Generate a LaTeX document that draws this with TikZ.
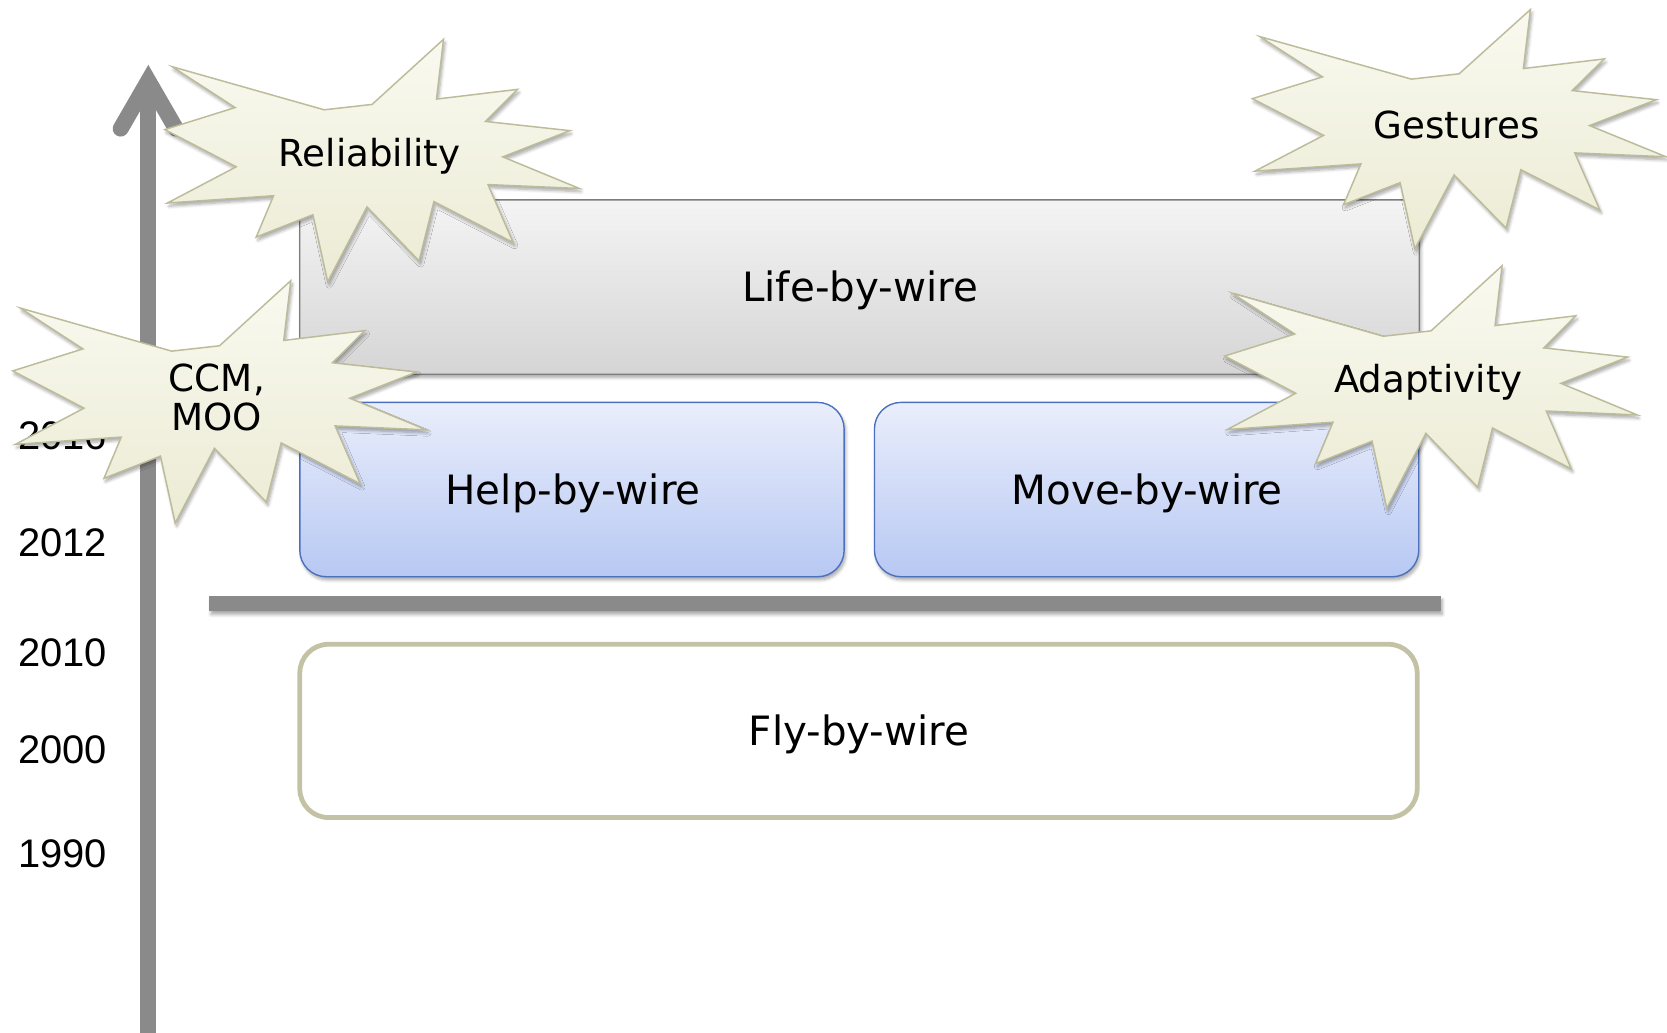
\documentclass[tikz,border=0pt]{standalone}
\usepackage{fontspec}
\setmainfont{DejaVu Sans}
\newfontfamily\yearfont{Liberation Sans}
\usetikzlibrary{shadows.blur}

\definecolor{axisgray}{HTML}{8A8A8A}
\definecolor{lifetop}{HTML}{F4F4F4}
\definecolor{lifebot}{HTML}{D5D5D5}
\definecolor{lifeedge}{HTML}{7C7C7C}
\definecolor{bluetop}{HTML}{EAEEFB}
\definecolor{bluebot}{HTML}{B7C8F3}
\definecolor{blueedge}{HTML}{4C70BE}
\definecolor{flyedge}{HTML}{C3C2A4}
\definecolor{bursttop}{HTML}{F9F9F0}
\definecolor{burstbot}{HTML}{ECEBD4}
\definecolor{burstedge}{HTML}{BDBC9A}

\tikzset{
  softshadow/.style={blur shadow={shadow xshift=1.5pt, shadow yshift=-3pt,
      shadow blur steps=6, shadow blur radius=3pt, shadow opacity=35}},
  boxtext/.style={font=\fontsize{38}{40}\selectfont, text=black},
  lifebox/.style={rectangle, rounded corners=14pt, draw=lifeedge, line width=1.2pt,
      top color=lifetop, bottom color=lifebot, softshadow, boxtext},
  bluebox/.style={rectangle, rounded corners=25pt, draw=blueedge, line width=1.3pt,
      top color=bluetop, bottom color=bluebot, softshadow, boxtext,
      minimum width=512pt, minimum height=164pt},
  flybox/.style={rectangle, rounded corners=27pt, draw=flyedge, line width=4.5pt,
      fill=white, boxtext},
  divider/.style={rectangle, fill=axisgray, inner sep=0pt, softshadow},
  axisline/.style={draw=axisgray, line width=15pt},
  yearlabel/.style={anchor=east, inner sep=0pt, font=\yearfont\fontsize{37.5}{40}\selectfont},
  burst/.style={draw=burstedge, line width=1.4pt, top color=bursttop,
      bottom color=burstbot, line join=miter, softshadow},
  bursttext/.style={font=\fontsize{35}{37}\selectfont, align=center, inner sep=0pt},
}

% Twelve-point explosion: #1 name, #2 left, #3 top, #4 width, #5 height, #6 label
\newcommand\explosion[6]{%
  \shade[burst] ({#2+0.5*#4},{#3+0.2685*#5})
    \foreach \u/\v in {0.6723/0, 0.6553/0.2465, 0.8509/0.2063, 0.7732/0.3387,
        0.9767/0.3767, 0.8151/0.4850, 1/0.6153, 0.7795/0.5992, 0.8400/0.8377,
        0.6491/0.6693, 0.6133/0.9137, 0.4876/0.6914, 0.3928/1, 0.3572/0.7235,
        0.2205/0.8156, 0.2624/0.6452, 0.00625/0.6753, 0.1723/0.5259, 0/0.3723,
        0.1697/0.2815, 0.018/0.113, 0.3844/0.2907}
      { -- ({#2+\u*#4},{#3+\v*#5}) } -- cycle;
  \node[bursttext] (#1) at ({#2+0.4937*#4},{#3+0.469*#5+3}) {#6};
}

\begin{document}
\begin{tikzpicture}[x=1pt, y=-1pt]
\useasboundingbox (0,0) rectangle (1568,971);

% time axis
\coordinate (axisfoot) at (139.5,975);
\coordinate (axistip) at (139.5,76);
\coordinate (headL) at (113.5,121);
\coordinate (headR) at (165.5,121);
\draw[axisline] (axisfoot) -- ([yshift=-4pt]axistip);
\draw[axisline, line cap=round, line join=miter] (headL) -- (axistip) -- (headR);

% years
\node[yearlabel] (y2016) at (101,410) {2016};
\node[yearlabel] (y2012) at (101,511) {2012};
\node[yearlabel] (y2010) at (101,614) {2010};
\node[yearlabel] (y2000) at (101,705) {2000};
\node[yearlabel] (y1990) at (101,803) {1990};

% layers
\node[lifebox, minimum width=1053pt, minimum height=164pt] (life) at (808.5,270) {};
\node[boxtext] (lifetext) at (809,273) {Life-by-wire};
\node[bluebox] (help) at (538,460.5) {};
\node[boxtext] (helptext) at (539,464) {Help-by-wire};
\node[bluebox] (move) at (1078.5,460.5) {};
\node[boxtext] (movetext) at (1079,464) {Move-by-wire};
\node[divider, minimum width=1158pt, minimum height=14pt] (bar) at (776,568) {};
\node[flybox, minimum width=1051pt, minimum height=163pt] (fly) at (807.5,687.5) {};
\node[boxtext] (flytext) at (808,691) {Fly-by-wire};

% highlights
\explosion{reliability}{155}{37}{390}{228}{Reliability}
\explosion{ccm}{12}{264}{389}{228}{CCM,\\MOO}
\explosion{gestures}{1178}{9}{389}{225}{Gestures}
\explosion{adaptivity}{1152}{250}{388}{228}{Adaptivity}
\end{tikzpicture}
\end{document}
